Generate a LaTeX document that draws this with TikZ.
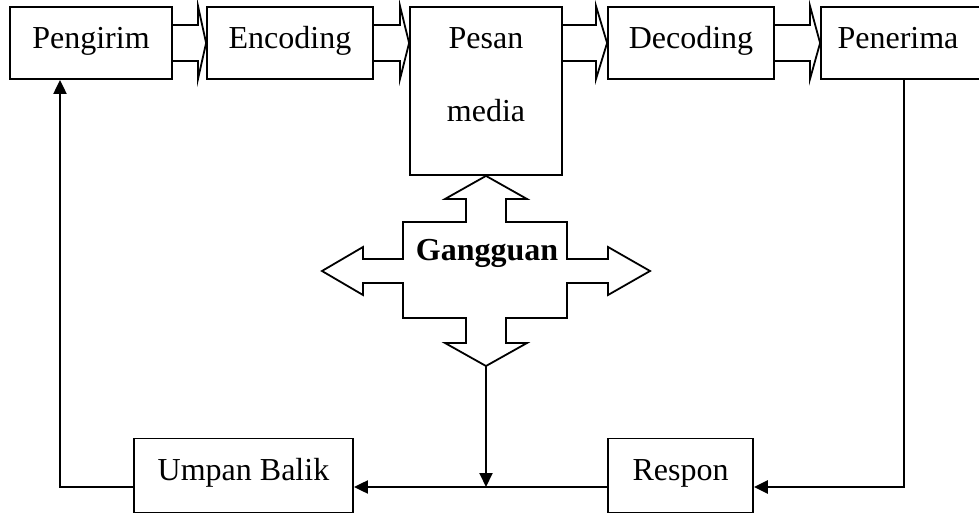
\documentclass[tikz,border=0pt]{standalone}
\usepackage{fontspec}
\setmainfont{Liberation Serif}
\usetikzlibrary{arrows.meta}
\begin{document}
\begin{tikzpicture}[x=0.5pt,y=-0.5pt,
  box/.style={draw,line width=0.9pt,inner sep=0pt,text height=10.8pt,text depth=5.4pt,font=\fontsize{16}{19}\selectfont},
  txt/.style={inner sep=0pt,font=\fontsize{16}{19}\selectfont},
  barrow/.style={draw,line width=0.9pt,line join=miter},
  arr/.style={draw,line width=1pt,-{Triangle[length=7pt,width=6.5pt]}},
  ln/.style={draw,line width=1pt}]
\useasboundingbox (0,0) rectangle (979,513);
\fill[white] (0,0) rectangle (979,513);
% top boxes
\node[box,minimum width=81pt,minimum height=36pt] (pengirim) at (91,43) {Pengirim};
\node[box,minimum width=83pt,minimum height=36pt] (encoding) at (290,43) {Encoding};
\node[box,minimum width=76pt,minimum height=84pt] (pesan) at (486,91) {};
\node[txt,anchor=base] (pesantxt) at (486,49) {Pesan};
\node[txt,anchor=base] (mediatxt) at (486,122) {media};
\node[box,minimum width=83pt,minimum height=36pt] (decoding) at (691,43) {Decoding};
\node[box,minimum width=83pt,minimum height=36pt] (penerima) at (904,43) {\hspace*{-6pt}Penerima};
% bottom boxes
\node[box,text depth=6pt,minimum width=109.5pt,minimum height=37pt] (umpan) at (243.5,475.5) {Umpan Balik};
\node[box,text depth=6pt,minimum width=72.5pt,minimum height=37pt] (respon) at (680.5,475.5) {Respon};
% block arrows
\draw[barrow] (pengirim.east |- 0,25) -- (198,25) -- (198,6) -- (encoding.west) -- (198,79) -- (198,61) -- (pengirim.east |- 0,61);
\draw[barrow] (encoding.east |- 0,25) -- (400,25) -- (400,6) -- (pesan.west |- encoding.west) -- (400,79) -- (400,61) -- (encoding.east |- 0,61);
\draw[barrow] (pesan.east |- 0,25) -- (596,25) -- (596,6) -- (decoding.west) -- (596,79) -- (596,61) -- (pesan.east |- 0,61);
\draw[barrow] (decoding.east |- 0,25) -- (810,25) -- (810,6) -- (penerima.west) -- (810,79) -- (810,61) -- (decoding.east |- 0,61);
% Gangguan cross
\draw[barrow] (pesan.south) -- (527,199) -- (506,199) -- (506,222) -- (567,222) -- (567,259) -- (608,259) -- (608,247) -- (650,271) -- (608,295) -- (608,283) -- (567,283) -- (567,318) -- (506,318) -- (506,343) -- (527,343) -- (486,366) -- (445,343) -- (466,343) -- (466,318) -- (403,318) -- (403,283) -- (363,283) -- (363,295) -- (322,271) -- (363,247) -- (363,259) -- (403,259) -- (403,222) -- (466,222) -- (466,199) -- (445,199) -- cycle;
\node[txt,font=\fontsize{16}{19}\selectfont\bfseries,anchor=base] (gangguan) at (487,260) {Gangguan};
\coordinate (gtip) at (486,366);
\coordinate (lineY) at (0,487);
\coordinate (fbx) at (60,487);
% connectors
\draw[arr,line width=1.2pt] (penerima.south) -- (penerima.south |- lineY) -- (respon.east |- lineY);
\draw[arr] (respon.west |- lineY) -- (umpan.east |- lineY);
\draw[arr] (gtip) -- (gtip |- lineY);
\draw[arr] (umpan.west |- lineY) -- (fbx) -- (fbx |- pengirim.south);
\end{tikzpicture}
\end{document}
